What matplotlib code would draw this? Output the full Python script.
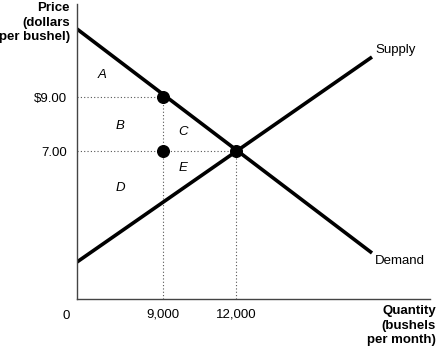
import matplotlib.pyplot as plt

# Schematic market diagram (axis units are arbitrary, ticks carry the real labels)

demand_x = [0, 295]
demand_y = [270, 46]
supply_x = [0, 295]
supply_y = [37, 242]

# points of interest: (9,000 ; $9.00), (9,000 ; 7.00), (12,000 ; 7.00)
point_x = [86, 86, 159]
point_y = [202, 148, 148]

x_ticks = [86, 159]
x_tick_labels = ["9,000", "12,000"]
y_ticks = [202, 148]
y_tick_labels = ["$9.00", "7.00"]

area_names = ["A", "B", "C", "D", "E"]
area_x = [25, 43, 106, 43, 106]
area_y = [224, 173, 167, 111, 131]

plt.rcParams["font.family"] = ["Liberation Sans", "DejaVu Sans"]

fig = plt.figure(figsize=(4.37, 3.52), dpi=100)
ax = fig.add_axes([77 / 437, 53 / 352, 353 / 437, 295 / 352])
ax.set_xlim(0, 353)
ax.set_ylim(0, 295)

for side in ["top", "right"]:
    ax.spines[side].set_visible(False)
for side in ["left", "bottom"]:
    ax.spines[side].set_color("#444444")
    ax.spines[side].set_linewidth(1.0)

# dotted guide lines
ax.plot([0, point_x[0]], [point_y[0], point_y[0]], ls=(0, (1, 2)), color="#555555", lw=0.8)
ax.plot([point_x[0], point_x[0]], [0, point_y[0]], ls=(0, (1, 2)), color="#555555", lw=0.8)
ax.plot([0, point_x[2]], [point_y[2], point_y[2]], ls=(0, (1, 2)), color="#555555", lw=0.8)
ax.plot([point_x[2], point_x[2]], [0, point_y[2]], ls=(0, (1, 2)), color="#555555", lw=0.8)

ax.plot(demand_x, demand_y, color="black", lw=2.6, solid_capstyle="butt")
ax.plot(supply_x, supply_y, color="black", lw=2.6, solid_capstyle="butt")
ax.scatter(point_x, point_y, s=70, color="black", zorder=5)

ax.text(supply_x[1] + 3, supply_y[1] + 7, "Supply", fontsize=9.5, ha="left", va="center")
ax.text(demand_x[1] + 3, demand_y[1] - 8, "Demand", fontsize=9.5, ha="left", va="center")

for name, x, y in zip(area_names, area_x, area_y):
    ax.text(x, y, name, fontsize=9.5, style="italic", ha="center", va="center")

ax.set_xticks(x_ticks)
ax.set_xticklabels(x_tick_labels, fontsize=9.5)
ax.set_yticks(y_ticks)
ax.set_yticklabels(y_tick_labels, fontsize=9.5)
ax.tick_params(length=0, pad=7)

ax.text(-11, -17, "0", fontsize=9.5, ha="center", va="center")

fig.text(70 / 437, 1 - 2 / 352, "Price\n(dollars\nper bushel)", fontsize=9.5,
         fontweight="bold", ha="right", va="top", linespacing=1.3)
fig.text(436 / 437, 1 - 305 / 352, "Quantity\n(bushels\nper month)", fontsize=9.5,
         fontweight="bold", ha="right", va="top", linespacing=1.3)

fig.savefig("out.png", dpi=100)
